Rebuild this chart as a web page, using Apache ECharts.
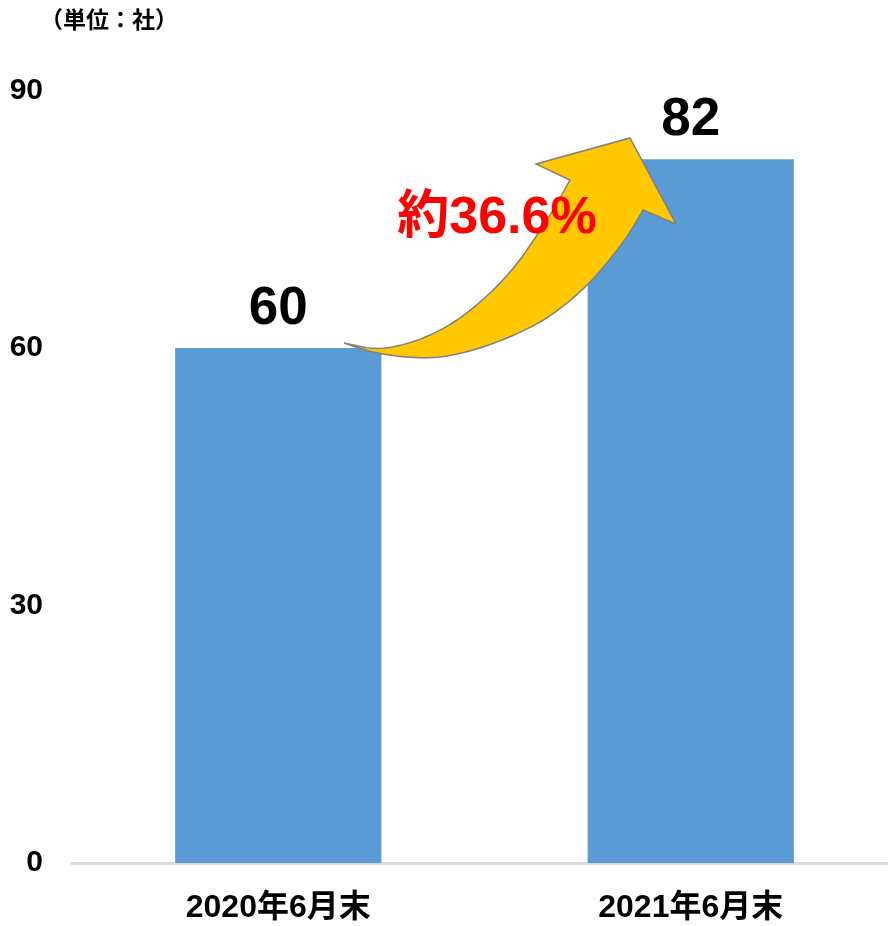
<!DOCTYPE html>
<html>
<head>
<meta charset="utf-8">
<script src="https://cdn.jsdelivr.net/npm/echarts@6/dist/echarts.min.js"></script>
<style>
  html, body { margin: 0; padding: 0; background: #ffffff; }
  #chart { width: 888px; height: 926px; }
</style>
</head>
<body>
<div id="chart"></div>
<script>
// Number of companies at the end of June each year
const categories = ['2020年6月末', '2021年6月末'];
const companyCounts = [60, 82];
const yTicks = [0, 30, 60, 90];
const growthLabel = '約36.6%';
const unitLabel = '（単位：社）';

const FONT = "'Liberation Sans', Arial, 'Noto Sans CJK JP', sans-serif";
const BAR_COLOR = '#5B9BD5';

// Dense points along a Catmull-Rom spline through the given control points
function smoothPoints(pts, steps) {
  const out = [];
  for (let i = 0; i < pts.length - 1; i++) {
    const p0 = pts[i - 1] || pts[i];
    const p1 = pts[i];
    const p2 = pts[i + 1];
    const p3 = pts[i + 2] || p2;
    const c1 = [p1[0] + (p2[0] - p0[0]) / 6, p1[1] + (p2[1] - p0[1]) / 6];
    const c2 = [p2[0] - (p3[0] - p1[0]) / 6, p2[1] - (p3[1] - p1[1]) / 6];
    for (let s = (i === 0 ? 0 : 1); s <= steps; s++) {
      const t = s / steps, u = 1 - t;
      out.push([
        u * u * u * p1[0] + 3 * u * u * t * c1[0] + 3 * u * t * t * c2[0] + t * t * t * p2[0],
        u * u * u * p1[1] + 3 * u * u * t * c1[1] + 3 * u * t * t * c2[1] + t * t * t * p2[1]
      ]);
    }
  }
  return out;
}

// Curved growth arrow between the two bars
const arrowUpper = [[344, 343], [370, 348], [392, 347], [423, 338], [457, 320], [490, 293], [515, 266], [535, 238], [553, 210], [570, 180]];
const arrowHead = [[536, 164], [630, 138], [676, 224]];
const arrowLower = [[643, 210], [628, 235], [610, 259], [590, 282], [567, 303], [540, 322], [507, 338], [473, 350], [440, 357], [407, 357], [373, 352], [344, 343]];

const arrowPoints = smoothPoints(arrowUpper, 8)
  .concat(arrowHead)
  .concat(smoothPoints(arrowLower, 8).slice(0, -1));

const chart = echarts.init(document.getElementById('chart'), null, { renderer: 'canvas' });

chart.setOption({
  backgroundColor: '#ffffff',
  animation: false,
  title: {
    text: unitLabel,
    left: 40,
    top: 10,
    padding: 0,
    textStyle: { fontFamily: FONT, fontSize: 23, fontWeight: 'bold', color: '#000000' }
  },
  // the plot area runs slightly past the right edge of the canvas
  grid: { left: 72, right: -9, top: 90.5, bottom: 63, outerBoundsMode: 'none', containLabel: false },
  xAxis: {
    type: 'category',
    data: categories,
    axisLine: { show: true, lineStyle: { color: '#D9D9D9', width: 3 } },
    axisTick: { show: false },
    axisLabel: {
      margin: 29,
      fontFamily: FONT,
      fontSize: 32,
      fontWeight: 'bold',
      color: '#000000'
    }
  },
  yAxis: {
    type: 'value',
    min: yTicks[0],
    max: yTicks[yTicks.length - 1],
    interval: yTicks[1] - yTicks[0],
    axisLine: { show: false },
    axisTick: { show: false },
    splitLine: { show: false },
    axisLabel: {
      margin: 29,
      fontFamily: FONT,
      fontSize: 30,
      fontWeight: 'bold',
      color: '#000000'
    }
  },
  series: [{
    type: 'bar',
    data: companyCounts,
    barWidth: '50%',
    itemStyle: { color: BAR_COLOR },
    label: {
      show: true,
      position: 'top',
      distance: 12,
      fontFamily: FONT,
      fontSize: 53,
      fontWeight: 'bold',
      color: '#000000'
    }
  }],
  graphic: [
    {
      type: 'polygon',
      z: 100,
      shape: { points: arrowPoints },
      style: { fill: '#FFC800', stroke: '#7F7F7F', lineWidth: 1.5, lineJoin: 'miter' }
    },
    {
      type: 'text',
      z: 110,
      x: 497,
      y: 219,
      style: {
        text: growthLabel,
        font: 'bold 52px ' + FONT,
        fill: '#FF0000',
        align: 'center',
        verticalAlign: 'middle'
      }
    }
  ]
});
</script>
</body>
</html>
